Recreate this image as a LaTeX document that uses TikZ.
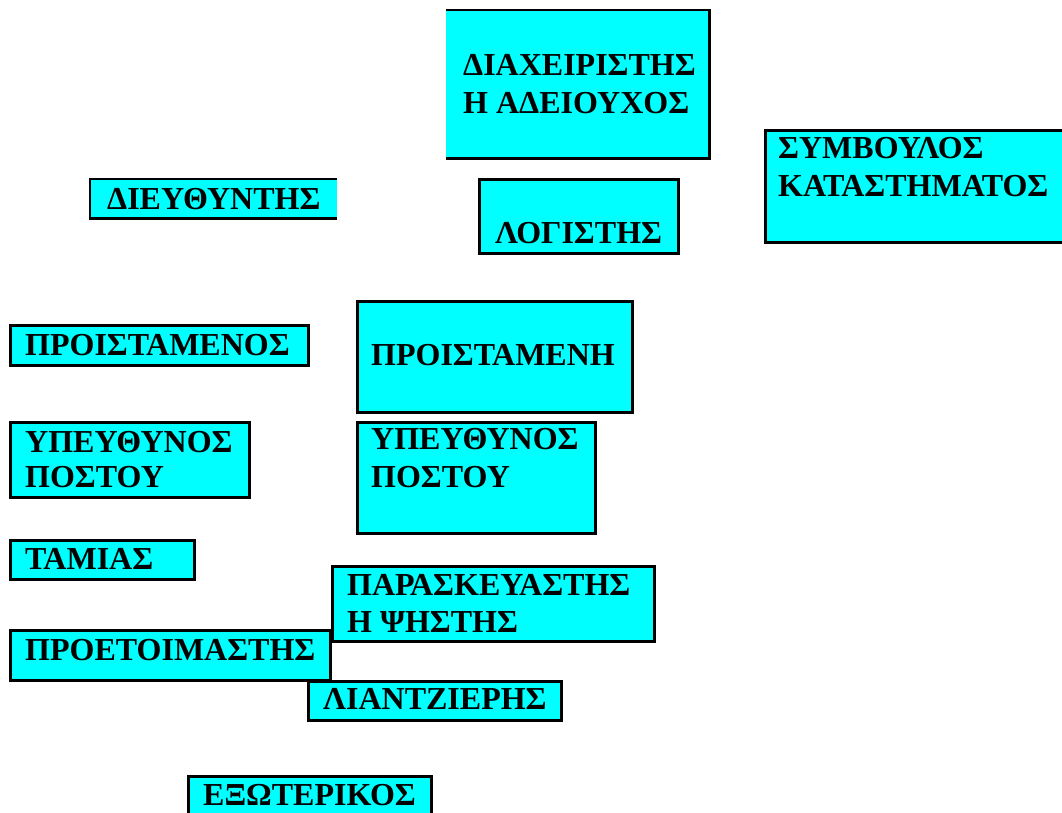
\documentclass[tikz,border=0pt]{standalone}
\usepackage{fontspec}
\setmainfont{Liberation Serif}
\definecolor{boxcyan}{RGB}{0,255,255}
\begin{document}
\begin{tikzpicture}[x=1pt,y=-1pt,
  box/.style={fill=boxcyan, draw=black, line width=2.6pt, inner sep=0pt, anchor=north west},
  boxfill/.style={fill=boxcyan, inner sep=0pt, anchor=north west},
  side/.style={draw=black, line width=2.6pt},
  lbl/.style={anchor=base west, inner sep=0pt, font=\fontsize{32}{38}\selectfont\bfseries, align=left}]
\useasboundingbox (0,0) rectangle (1062,812);
\clip (0,0) rectangle (1062,812);
% ΔΙΑΧΕΙΡΙΣΤΗΣ (no left border)
\node[boxfill, minimum width=263pt, minimum height=148pt] (b1) at (446,10) {};
\draw[side] (b1.north west) -- (b1.north east) -- (b1.south east) -- (b1.south west);
\node[lbl] (t1) at (463,113) {ΔΙΑΧΕΙΡΙΣΤΗΣ\\Η ΑΔΕΙΟΥΧΟΣ};
% ΛΟΓΙΣΤΗΣ
\node[box, minimum width=199pt, minimum height=74pt] (b2) at (478,178) {};
\node[lbl] (t2) at (495,243) {ΛΟΓΙΣΤΗΣ};
% ΣΥΜΒΟΥΛΟΣ
\node[box, minimum width=320pt, minimum height=112pt] (b3) at (764,129) {};
\node[lbl] (t3) at (778,196) {ΣΥΜΒΟΥΛΟΣ\\ΚΑΤΑΣΤΗΜΑΤΟΣ};
% ΔΙΕΥΘΥΝΤΗΣ (no right border)
\node[boxfill, minimum width=247pt, minimum height=39pt] (b4) at (90,179) {};
\draw[side] (b4.north east) -- (b4.north west) -- (b4.south west) -- (b4.south east);
\node[lbl] (t4) at (107,209) {ΔΙΕΥΘΥΝΤΗΣ};
% ΠΡΟΙΣΤΑΜΕΝΟΣ
\node[box, minimum width=298pt, minimum height=40pt] (b5) at (9,324) {};
\node[lbl] (t5) at (25,355) {ΠΡΟΙΣΤΑΜΕΝΟΣ};
% ΠΡΟΙΣΤΑΜΕΝΗ
\node[box, minimum width=275pt, minimum height=111pt] (b6) at (356,300) {};
\node[lbl] (t6) at (371,365) {ΠΡΟΙΣΤΑΜΕΝΗ};
% ΥΠΕΥΘΥΝΟΣ ΠΟΣΤΟΥ left
\node[box, minimum width=239pt, minimum height=75pt] (b7) at (9,421) {};
\node[lbl, font=\fontsize{32}{35}\selectfont\bfseries] (t7) at (25,487) {ΥΠΕΥΘΥΝΟΣ\\ΠΟΣΤΟΥ};
% ΥΠΕΥΘΥΝΟΣ ΠΟΣΤΟΥ right
\node[box, minimum width=238pt, minimum height=111pt] (b8) at (356,421) {};
\node[lbl] (t8) at (371,487) {ΥΠΕΥΘΥΝΟΣ\\ΠΟΣΤΟΥ};
% ΤΑΜΙΑΣ
\node[box, minimum width=184pt, minimum height=39pt] (b9) at (9,539) {};
\node[lbl] (t9) at (25,569) {ΤΑΜΙΑΣ};
% ΠΑΡΑΣΚΕΥΑΣΤΗΣ
\node[box, minimum width=322pt, minimum height=75pt] (b10) at (331,565) {};
\node[lbl, font=\fontsize{32}{37}\selectfont\bfseries] (t10) at (347,632) {ΠΑΡΑΣΚΕΥΑΣΤΗΣ\\Η ΨΗΣΤΗΣ};
% ΠΡΟΕΤΟΙΜΑΣΤΗΣ
\node[box, minimum width=320pt, minimum height=50pt] (b11) at (9,629) {};
\node[lbl] (t11) at (25,660) {ΠΡΟΕΤΟΙΜΑΣΤΗΣ};
% ΛΙΑΝΤΖΙΕΡΗΣ
\node[box, minimum width=253pt, minimum height=39pt] (b12) at (307,680) {};
\node[lbl] (t12) at (323,709) {ΛΙΑΝΤΖΙΕΡΗΣ};
% ΕΞΩΤΕΡΙΚΟΣ
\node[box, minimum width=243pt, minimum height=60pt] (b13) at (187,775) {};
\node[lbl] (t13) at (203,805) {ΕΞΩΤΕΡΙΚΟΣ};
\end{tikzpicture}
\end{document}
